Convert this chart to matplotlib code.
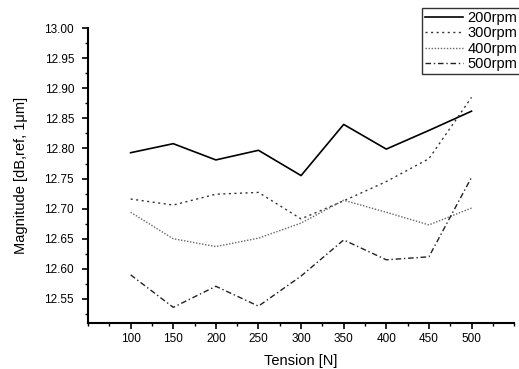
import matplotlib.pyplot as plt
import numpy as np

plt.rcParams['font.family'] = ['Liberation Sans', 'DejaVu Sans']

# tension values and magnitude per speed
tension = [100, 150, 200, 250, 300, 350, 400, 450, 500]
rpm200 = [12.793, 12.808, 12.781, 12.797, 12.755, 12.840, 12.799, 12.830, 12.862]
rpm300 = [12.716, 12.706, 12.724, 12.727, 12.683, 12.713, 12.745, 12.783, 12.885]
rpm400 = [12.694, 12.650, 12.637, 12.651, 12.676, 12.714, 12.694, 12.673, 12.701]
rpm500 = [12.590, 12.536, 12.571, 12.538, 12.588, 12.648, 12.615, 12.620, 12.752]
labels = ['200rpm', '300rpm', '400rpm', '500rpm']

fig = plt.figure(figsize=(5.19, 3.69), dpi=100)
ax = fig.add_axes([0.1696, 0.1247, 0.821, 0.799])

ax.plot(tension, rpm200, color='black', lw=1.2, ls='-', label=labels[0])
ax.plot(tension, rpm300, color='#333333', lw=1.0, ls=(0, (1.5, 2.5)), label=labels[1])
ax.plot(tension, rpm400, color='#666666', lw=1.0, ls=(0, (1, 1.2)), label=labels[2])
ax.plot(tension, rpm500, color='#222222', lw=1.0, ls=(0, (4, 2, 1, 2)), label=labels[3])

ax.set_xlim(50, 550)
ax.set_ylim(12.51, 13.00)
ax.set_xticks(np.arange(100, 501, 50))
ax.set_xticks(np.arange(50, 551, 25), minor=True)
ax.set_yticks(np.arange(12.55, 13.001, 0.05))
ax.set_yticks(np.arange(12.525, 13.0, 0.05), minor=True)
ax.yaxis.set_major_formatter(plt.FormatStrFormatter('%.2f'))

for s in ['top', 'right']:
    ax.spines[s].set_visible(False)
for s in ['left', 'bottom']:
    ax.spines[s].set_linewidth(1.5)
ax.tick_params(which='major', direction='out', length=4, width=1.2, labelsize=8.5)
ax.tick_params(axis='y', which='major', pad=6)
ax.tick_params(which='minor', direction='out', length=2.5, width=1.0)

ax.set_xlabel('Tension [N]', fontsize=10.5, labelpad=6)
ax.set_ylabel('Magnitude [dB,ref, 1μm]', fontsize=10.5, labelpad=12)

leg = ax.legend(loc='upper left', bbox_to_anchor=(0.813, 0.978), bbox_transform=fig.transFigure,
                fancybox=False, edgecolor='black', fontsize=10.5, handlelength=2.6,
                handletextpad=0.3, borderpad=0.2, labelspacing=0.1, borderaxespad=0)
leg.get_frame().set_linewidth(1.0)

fig.savefig('out.png', dpi=100)
